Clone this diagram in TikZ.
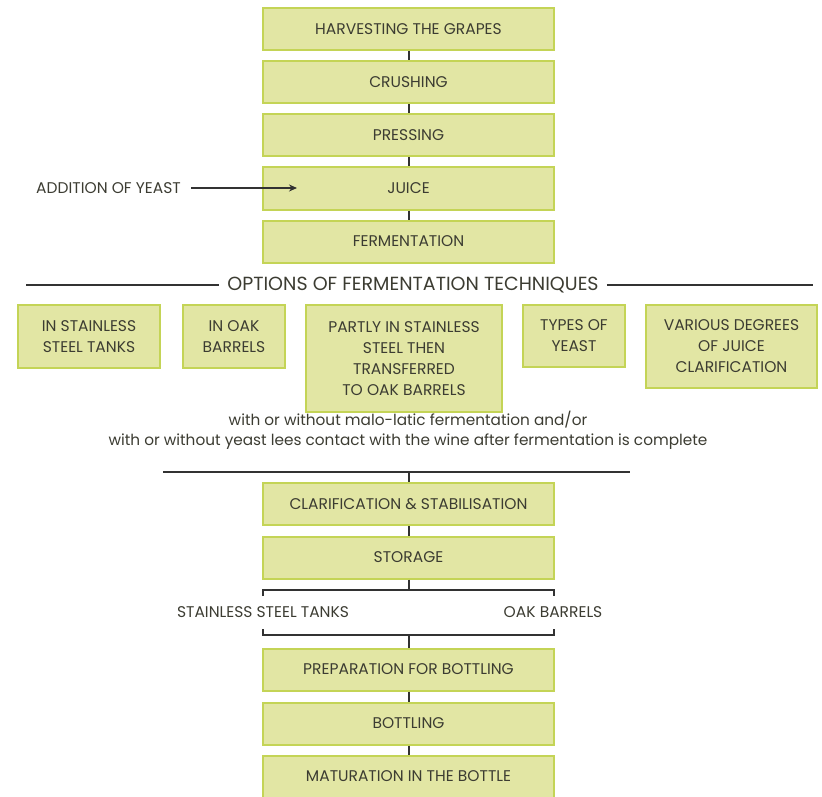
\documentclass[tikz,border=0pt]{standalone}
\usepackage{fontspec}
\setmainfont{Poppins}
\usetikzlibrary{arrows.meta}
\definecolor{boxfill}{RGB}{226,230,164}
\definecolor{boxline}{RGB}{196,212,86}
\definecolor{txt}{RGB}{60,60,50}
\definecolor{ink}{RGB}{50,50,50}
\tikzset{
  x=1pt,y=-1pt,
  stage/.style={draw=boxline,fill=boxfill,line width=2pt,minimum width=291pt,minimum height=42pt,inner sep=0pt,text=txt,font=\fontsize{15.5}{18}\selectfont},
  optbox/.style={draw=boxline,fill=boxfill,line width=2pt,inner sep=0pt,text=txt,align=center,font=\fontsize{15.5}{21}\selectfont},
  lbl/.style={text=txt,inner sep=0pt,font=\fontsize{15.5}{18}\selectfont},
  link/.style={draw=ink,line width=2pt},
  rule/.style={draw=ink,line width=1.6pt},
}
\begin{document}
\begin{tikzpicture}
\useasboundingbox (0,0) rectangle (822,797);
% top chain
\node[stage] (h1) at (408.5,29) {HARVESTING THE GRAPES};
\node[stage] (h2) at (408.5,82.5) {CRUSHING};
\node[stage] (h3) at (408.5,135.5) {PRESSING};
\node[stage] (h4) at (408.5,188.5) {JUICE};
\node[stage] (h5) at (408.5,241.5) {FERMENTATION};
\draw[link] (h1) -- (h2);
\draw[link] (h2) -- (h3);
\draw[link] (h3) -- (h4);
\draw[link] (h4) -- (h5);
% addition of yeast
\node[lbl,anchor=west] (yeast) at (36,188) {ADDITION OF YEAST};
\coordinate (yeastend) at (297,188);
\draw[ink,line width=1.2pt,-{Stealth[length=8pt,width=7pt]}] (yeast.east) ++(10,0) -- (yeastend);
% options title
\node[text=txt,inner sep=0pt,font=\fontsize{19}{22}\selectfont] (opt) at (413,285) {OPTIONS OF FERMENTATION TECHNIQUES};
\coordinate (ol) at (26,285);
\coordinate (or) at (813,285);
\draw[rule] (ol) -- ([xshift=-8pt]opt.west);
\draw[rule] ([xshift=8pt]opt.east) -- (or);
% option boxes
\node[optbox,minimum width=142pt,minimum height=63pt] (o1) at (89,336.5) {IN STAINLESS\\STEEL TANKS};
\node[optbox,minimum width=102pt,minimum height=63pt] (o2) at (234,336.5) {IN OAK\\BARRELS};
\node[optbox,minimum width=196pt,minimum height=107pt] (o3) at (404,358.5) {PARTLY IN STAINLESS\\STEEL THEN\\TRANSFERRED\\TO OAK BARRELS};
\node[optbox,minimum width=102pt,minimum height=62pt] (o4) at (574,336) {TYPES OF\\YEAST};
\node[optbox,minimum width=171pt,minimum height=83pt] (o5) at (731.5,346.5) {VARIOUS DEGREES\\OF JUICE\\CLARIFICATION};
% notes
\node[text=txt,inner sep=0pt,align=center,font=\fontsize{15.3}{20}\selectfont] (note) at (408,430) {with or without malo-latic fermentation and/or\\with or without yeast lees contact with the wine after fermentation is complete};
% rule and lower chain
\coordinate (bl) at (163,472);
\coordinate (br) at (630,472);
\coordinate (bm) at (408.5,472);
\draw[rule] (bl) -- (br);
\node[stage] (c1) at (408.5,504) {CLARIFICATION \& STABILISATION};
\node[stage] (c2) at (408.5,557.5) {STORAGE};
\draw[link] (bm) -- (c1);
\draw[link] (c1) -- (c2);
% storage bracket
\coordinate (t0) at (408.5,590);
\coordinate (tl) at (263,590);
\coordinate (tr) at (554,590);
\coordinate (tld) at (263,596);
\coordinate (trd) at (554,596);
\draw[link] (c2) -- (t0);
\draw[rule] (tld) -- (tl) -- (tr) -- (trd);
\node[lbl] (ss) at (263,612) {STAINLESS STEEL TANKS};
\node[lbl] (ob) at (553,612) {OAK BARRELS};
\coordinate (b0) at (408.5,635);
\coordinate (bbl) at (263,635);
\coordinate (bbr) at (554,635);
\coordinate (blu) at (263,629);
\coordinate (bru) at (554,629);
\draw[rule] (blu) -- (bbl) -- (bbr) -- (bru);
\node[stage] (d1) at (408.5,669.5) {PREPARATION FOR BOTTLING};
\node[stage] (d2) at (408.5,723.5) {BOTTLING};
\node[stage] (d3) at (408.5,776.5) {MATURATION IN THE BOTTLE};
\draw[link] (b0) -- (d1);
\draw[link] (d1) -- (d2);
\draw[link] (d2) -- (d3);
\end{tikzpicture}
\end{document}
